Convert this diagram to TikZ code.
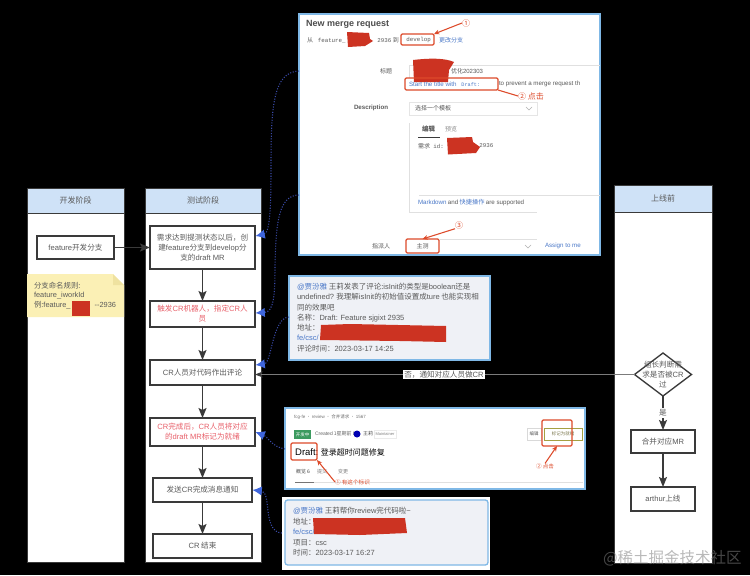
\documentclass[tikz,border=0pt]{standalone}
\usepackage{fontspec}
\usetikzlibrary{arrows.meta,shapes.geometric}
\setmainfont{Noto Sans CJK SC}
\newfontfamily\lf{Liberation Sans}
\newfontfamily\mf{Liberation Mono}
\newcommand\pf[1]{\fontsize{\fpeval{#1*0.75}}{\fpeval{#1*0.98}}\selectfont}
% name, x1, y1, x2, y2, style, text
\newcommand\pbox[7]{\node[#6,minimum width={(#4-#2)*0.75pt},minimum height={(#5-#3)*0.75pt}] (#1) at ({(#2+#4)/2},{(#3+#5)/2}) {#7};}
\definecolor{laneh}{HTML}{CFE2F7}
\definecolor{ink}{HTML}{5A5A5A}
\definecolor{edge}{HTML}{3A3A3A}
\definecolor{redtx}{HTML}{E8606A}
\definecolor{blot}{HTML}{CC3322}
\definecolor{mark}{HTML}{DD4A2A}
\definecolor{frameb}{HTML}{7FB8E6}
\definecolor{linkb}{HTML}{4A78C8}
\definecolor{arrowb}{HTML}{3F66DD}
\definecolor{dotb}{HTML}{3A4AA8}
\definecolor{notefill}{HTML}{FBF0B5}
\definecolor{notefold}{HTML}{EFE2A0}
\definecolor{tagg}{HTML}{3C9A5F}
\definecolor{panelf}{HTML}{EFF1F6}
\tikzset{
  x=0.75pt,y=-0.75pt,
  every node/.style={inner sep=0pt,outer sep=0pt,text=ink},
  lanebody/.style={draw=edge,line width=0.6pt,fill=white,rectangle},
  lanehead/.style={draw=edge,line width=0.6pt,fill=laneh,rectangle,font=\pf{8}},
  stepbox/.style={draw=edge,line width=1pt,fill=white,rectangle,align=center,font=\pf{7.6}},
  redstep/.style={stepbox,text=redtx},
  flow/.style={draw=edge,line width=1.1pt,-{Stealth[length=7.5pt,width=6pt,inset=1.5pt]}},
  hint/.style={draw=dotb,line width=0.8pt,dash pattern=on 0.8pt off 1.2pt,-{Latex[length=7pt,width=7pt,color=arrowb]}},
  shot/.style={draw=frameb,line width=0.9pt,fill=white,rectangle},
  txt/.style={anchor=west,font=\pf{7.5}},
  small/.style={anchor=west,font=\pf{6}},
  redbox/.style={draw=mark,line width=0.9pt,rounded corners=1pt,rectangle,fill=none},
  redarrow/.style={draw=mark,line width=0.8pt,-{Stealth[length=4pt,width=3.5pt]}},
  redtxt/.style={font=\pf{8},text=mark},
  faint/.style={draw=black!12,line width=0.4pt},
}
\begin{document}
\begin{tikzpicture}
\useasboundingbox (0,0) rectangle (750,575);
\fill[black] (0,0) rectangle (750,575);

% lanes
\pbox{l1}{27}{188}{124}{562}{lanebody}{}
\pbox{h1}{27}{188}{124}{213}{lanehead}{开发阶段}
\pbox{l2}{145}{188}{261}{562}{lanebody}{}
\pbox{h2}{145}{188}{261}{213}{lanehead}{测试阶段}
\pbox{l3}{614}{185}{712}{563}{lanebody}{}
\pbox{h3}{614}{185}{712}{212}{lanehead}{上线前}

% note
\fill[notefill] (27,274) -- (113,274) -- (124,285) -- (124,317) -- (27,317) -- cycle;
\fill[notefold] (113,274) -- (124,285) -- (113,285) -- cycle;
\node[txt,font=\pf{7.4}] (nt1) at (34,286) {分支命名规则:};
\node[txt,font=\pf{7.4}] (nt2) at (34,296) {\lf feature\_iworkId};
\node[txt,font=\pf{7.4}] (nt3) at (34,305.5) {例:{\lf feature\_\hspace{18pt}--2936}};
\fill[blot] (72,301) -- (90,301) -- (90,315.5) -- (72,315.5) -- cycle;

% steps
\pbox{f1}{37}{236}{114}{259}{stepbox}{{\lf feature}开发分支}
\pbox{n1}{150}{226}{255}{269}{stepbox}{需求达到提测状态以后，创\\建{\lf feature}分支到{\lf develop}分\\支的{\lf draft MR}}
\pbox{n2}{150}{301}{255}{327}{redstep}{触发{\lf CR}机器人，指定{\lf CR}人\\员}
\pbox{n3}{150}{360}{255}{385}{stepbox}{{\lf CR}人员对代码作出评论}
\pbox{n4}{150}{418}{255}{446}{redstep}{{\lf CR}完成后，{\lf CR}人员将对应\\的{\lf draft MR}标记为就绪}
\pbox{n5}{153}{478}{252}{502}{stepbox}{发送{\lf CR}完成消息通知}
\pbox{n6}{153}{534}{252}{558}{stepbox}{{\lf CR} 结束}
\node[diamond,draw=edge,line width=1pt,fill=white,minimum width=42.75pt,minimum height=32.25pt,aspect=1.33,align=center] (d1) at (663,374.5) {};
\node[font=\pf{7.6},align=center] (d1t) at (663,374.5) {组长判断需\\求是否被{\lf CR}\\过};
\pbox{m1}{631}{430}{695}{453}{stepbox}{合并对应{\lf MR}}
\pbox{m2}{631}{487}{695}{511}{stepbox}{{\lf arthur}上线}

% flow
\draw[flow] (f1.east) -- (f1.east -| n1.west);
\draw[flow] (n1) -- (n2);
\draw[flow] (n2) -- (n3);
\draw[flow] (n3) -- (n4);
\draw[flow] (n4.south) -- (n4.south |- n5.north);
\draw[flow] (n5) -- (n6);
\draw[flow] (d1.south) -- node[fill=white,font=\pf{7.6},inner sep=1pt] (yes) {是} (m1.north);
\draw[flow] (m1) -- (m2);
\draw[draw=ink!80!white,line width=0.6pt,-{Stealth[length=6pt,width=4.5pt,color=edge]}] (d1.west) -- (d1.west -| n3.east);
\node[fill=white,font=\pf{7.6},inner xsep=1pt,inner ysep=1pt] (no) at (444,374.5) {否，通知对应人员做{\lf CR}};

% screenshot 1
\pbox{s1}{299}{14}{600}{255}{shot}{}
\node[txt,font=\bfseries\pf{9},text=black!70] (a1) at (306,24) {\lf\bfseries New merge request};
\node[small] (a2) at (307,40) {从 {\mf\pf{5.8} feature\_}};
\node[small] (a3) at (374,40) {{\mf\pf{5.8} 2936} 到};
\node[small] (a4) at (403,40) {\mf\pf{5.8} develop};
\node[small,text=linkb] (a5) at (439,40) {更改分支};
\fill[blot] (347,32) -- (369,33) -- (370,39) -- (373,41) -- (365,46) -- (348,47) -- cycle;
\pbox{a6}{401}{34}{434}{45}{redbox}{}
\node[redtxt] (c1) at (466,23) {①};
\draw[faint] (409,65) -- (600,65);
\draw[faint] (409,65) -- (409,78);
\node[small] (a7) at (380,71) {标题};
\node[small] (a8) at (451,71) {优化{\lf 202303}};
\fill[blot] (413,60) .. controls (430,58) and (445,58) .. (454,62) -- (449,70) -- (448,82) -- (414,82) -- cycle;
\node[small,text=linkb,font=\lf\pf{6.2}] (a9) at (409,84) {Start the title with {\mf\pf{5.2} Draft:}};
\node[small,font=\lf\pf{6.2}] (a10) at (499,84) {to prevent a merge request th};
\pbox{a11}{405}{78}{498}{90}{redbox}{}
\node[redtxt,anchor=west] (c2) at (518,96) {② 点击};
\node[small,font=\lf\bfseries\pf{6.2}] (a12) at (354,108) {Description};
\pbox{a13}{409}{102}{537}{115}{draw=black!10,line width=0.4pt,rectangle}{}
\node[small] (a14) at (415,108) {选择一个模板};
\node[small,font=\bfseries\pf{6.5}] (a15) at (422,129) {编辑};
\node[small,text=black!45] (a16) at (445,129) {预览};
\draw[edge,line width=0.6pt] (418,137) -- (440,137);
\draw[faint] (409,123) -- (409,212);
\draw[faint] (419,195) -- (600,195);
\draw[faint] (409,212) -- (537,212);
\node[small] (a17) at (418,146) {需求{\mf\pf{5.8} id:}};
\node[small] (a18) at (476,146) {\mf\pf{5.8} 2936};
\fill[blot] (447,138) -- (472,137) -- (473,142) -- (480,147) -- (476,153) -- (448,154.5) -- cycle;
\node[small,font=\pf{6.2}] (a19) at (418,203) {{\lf\color{linkb} Markdown} {\lf and} {\color{linkb} 快捷操作} {\lf are supported}};
\node[small] (a20) at (372,246) {指派人};
\pbox{a21}{406}{239}{439}{253}{redbox}{}
\node[font=\pf{6}] (a22) at (422.5,246) {主测};
\node[redtxt] (c3) at (459,225) {③};
\draw[faint] (439,239) -- (537,239);
\draw[black!30,line width=0.4pt] (525,245) -- (528,248) -- (531,245);
\draw[black!30,line width=0.4pt] (526,107) -- (529,110) -- (532,107);
\node[small,text=linkb,font=\lf\pf{6.2}] (a23) at (545,246) {Assign to me};
\draw[redarrow] (c1.west) -- (a6.north east);
\draw[draw=mark,line width=0.8pt] (a11.south east) -- (c2.west);
\draw[redarrow] (c3.south west) -- (a21.north);

% comment screenshot
\pbox{s2}{289}{276}{490}{360}{draw=frameb,line width=0.9pt,fill=panelf,rectangle}{}
\node[txt] (b1) at (297,287) {{\color{linkb}{\lf @}贾汾雅} 王莉发表了评论:{\lf isInit}的类型是{\lf boolean}还是};
\node[txt] (b2) at (297,297) {{\lf undefined?} 我理解{\lf isInit}的初始值设置成{\lf ture} 也能实现相};
\node[txt] (b3) at (297,307.5) {同的效果吧};
\node[txt] (b4) at (297,318) {名称：{\lf Draft: Feature sjgixt 2935}};
\node[txt] (b5) at (297,328) {地址：};
\node[txt,text=linkb] (b6) at (297,338) {\lf fe/csc/};
\node[txt] (b7) at (297,349) {评论时间：{\lf 2023-03-17 14:25}};
\fill[blot] (321,325) -- (350,324) -- (446,326) -- (446,338) -- (446,342) -- (400,341) -- (320,340) -- cycle;

% draft screenshot
\pbox{s3}{285}{408}{585}{489}{shot}{}
\node[anchor=west,font=\pf{4.5},text=black!55] (e1) at (294,417) {{\lf fcg-fe}  ·  {\lf review}  ·  合并请求  ·  {\lf 1567}};
\pbox{e2}{294}{430}{311}{439}{fill=tagg,rectangle,font=\pf{4.5},text=white}{开发中}
\node[anchor=west,font=\pf{5},text=black!60] (e3) at (315,434) {{\lf Created} 1星期前 {\lf by}};
\fill[blue!70!black] (357,434) circle (3.5);
\node[anchor=west,font=\pf{5},text=black!70] (e4) at (363,434) {王莉};
\pbox{e5}{374}{430}{396}{438}{draw=black!8,line width=0.3pt,rectangle,font=\lf\pf{4},text=black!50}{Maintainer}
\node[anchor=west,font=\pf{8},text=black] (e6) at (292.5,452) {{\lf\pf{9.5} Draft:} 登录超时问题修复};
\pbox{e7}{291}{443}{317}{460}{redbox}{}
\node[anchor=west,font=\pf{5},text=black!70] (e8) at (296,472) {概览 {\lf 6}};
\node[anchor=west,font=\pf{5},text=black!50] (e9) at (317,472) {提交};
\node[anchor=west,font=\pf{5},text=black!50] (e10) at (338,472) {变更};
\draw[edge!70!white,line width=0.6pt] (295,482) -- (314,482);
\draw[faint] (314,482) -- (583,482);
\node[anchor=west,font=\pf{5.6},text=mark] (e11) at (335,482) {① 有这个标识};
\pbox{e12}{527}{428}{541}{440}{draw=black!15,line width=0.3pt,rectangle,font=\pf{4.5}}{编辑}
\pbox{e13}{544}{428}{582}{440}{draw=yellow!60!black,line width=0.4pt,rectangle,font=\pf{4.5},text=yellow!40!black}{标记为就绪\quad}
\pbox{e14}{542}{420}{572}{446}{redbox}{}
\node[anchor=west,font=\pf{5.6},text=mark] (e15) at (536,466) {② 点击};
\draw[redarrow] (e11.west) -- (e7.south east);
\draw[redarrow] (e15.north) -- (e14.south);

% notification screenshot
\pbox{s4}{282}{497}{489}{569}{draw=white,line width=0.5pt,fill=white,rectangle}{}
\pbox{s5}{285}{500}{488}{565}{draw=frameb,line width=1pt,fill=panelf,rectangle,rounded corners=2pt}{}
\node[txt] (g1) at (293,511) {{\color{linkb}{\lf @}贾汾雅} 王莉帮你{\lf review}完代码啦{\lf\textasciitilde}};
\node[txt] (g2) at (293,521.5) {地址：};
\node[txt,text=linkb] (g3) at (293,532) {\lf fe/csc/};
\node[txt] (g4) at (293,543) {项目：{\lf csc}};
\node[txt] (g5) at (293,553) {时间：{\lf 2023-03-17 16:27}};
\fill[blot] (313,518) -- (405,518) -- (407,533) -- (360,535) -- (314,534) -- cycle;

% dotted hints
\coordinate (p1) at (s1.west |- 0,71);
\coordinate (p2) at (s1.west |- 0,195);
\coordinate (p3) at (s2.west |- 0,317);
\coordinate (p4) at (s3.west |- 0,449);
\coordinate (p5) at (s4.west |- 0,533);
\coordinate (q1) at (255.5,236);
\coordinate (q2) at (255.5,313);
\coordinate (q3) at (255.5,365);
\coordinate (q4) at (255.5,432);
\coordinate (q5) at (252.5,490);
\draw[hint] (p1) .. controls (272,72) and (271,110) .. (271,170) .. controls (271,205) and (270,233) .. (q1);
\draw[hint] (p2) .. controls (278,195) and (276,225) .. (275,265) .. controls (275,295) and (274,312) .. (q2);
\draw[hint] (p3) .. controls (272,318) and (272,363) .. (q3);
\draw[hint] (p4) .. controls (272,447) and (268,437) .. (q4);
\draw[hint] (p5) .. controls (262,532) and (272,492) .. (q5);

% watermark
\node[anchor=west,font=\pf{15.5},text=gray,opacity=0.55] (wm) at (603,558) {@稀土掘金技术社区};
\end{tikzpicture}
\end{document}
